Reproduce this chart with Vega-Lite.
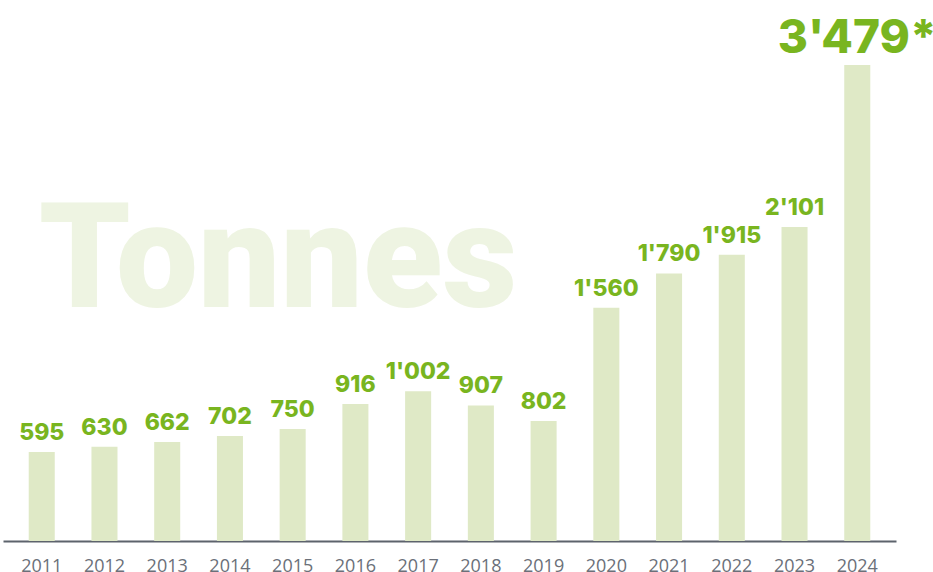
{
  "$schema": "https://vega.github.io/schema/vega-lite/v6.json",
  "autosize": {"type": "none"},
  "width": 893,
  "height": 476,
  "padding": {"top": 65, "left": 3, "right": 37, "bottom": 31},
  "background": "white",
  "config": {"view": {"stroke": null}},
  "data": {
    "values": [
      {"year": "2011", "value": 595, "label": "595"},
      {"year": "2012", "value": 630, "label": "630"},
      {"year": "2013", "value": 662, "label": "662"},
      {"year": "2014", "value": 702, "label": "702"},
      {"year": "2015", "value": 750, "label": "750"},
      {"year": "2016", "value": 916, "label": "916"},
      {"year": "2017", "value": 1002, "label": "1'002"},
      {"year": "2018", "value": 907, "label": "907"},
      {"year": "2019", "value": 802, "label": "802"},
      {"year": "2020", "value": 1560, "label": "1'560"},
      {"year": "2021", "value": 1790, "label": "1'790"},
      {"year": "2022", "value": 1915, "label": "1'915"},
      {"year": "2023", "value": 2101, "label": "2'101"},
      {"year": "2024", "value": 3479, "label": "3'479*"}
    ]
  },
  "encoding": {
    "x": {
      "field": "year",
      "type": "nominal",
      "sort": null,
      "scale": {"paddingInner": 0.585, "paddingOuter": 0.41, "align": 0.5},
      "axis": {
        "title": null,
        "labelAngle": 0,
        "domainColor": "#5d636c",
        "domainWidth": 2,
        "ticks": false,
        "labelFont": "Open Sans",
        "labelFontSize": 18,
        "labelColor": "#6b7079",
        "labelPadding": 16
      }
    },
    "y": {
      "field": "value",
      "type": "quantitative",
      "scale": {"domain": [0, 3184], "clamp": true, "nice": false, "zero": true},
      "axis": null
    }
  },
  "layer": [
    {
      "transform": [{"filter": "datum.value === 1560"}],
      "mark": {
        "type": "text",
        "font": "Roboto",
        "fontWeight": 900,
        "fontSize": 146,
        "align": "left",
        "baseline": "alphabetic",
        "dx": -3,
        "dy": -1,
        "color": "#eef4e2"
      },
      "encoding": {
        "x": {"datum": "2011"},
        "text": {"value": "Tonnes"}
      }
    },
    {
      "mark": {"type": "bar", "color": "#dfe9c6"}
    },
    {
      "mark": {
        "type": "text",
        "font": "Inter",
        "fontWeight": 800,
        "baseline": "alphabetic",
        "dy": -12,
        "color": "#79b51f"
      },
      "encoding": {
        "text": {"field": "label"},
        "size": {
          "condition": {"test": "datum.year === '2024'", "value": 46},
          "value": 23
        }
      }
    }
  ]
}
